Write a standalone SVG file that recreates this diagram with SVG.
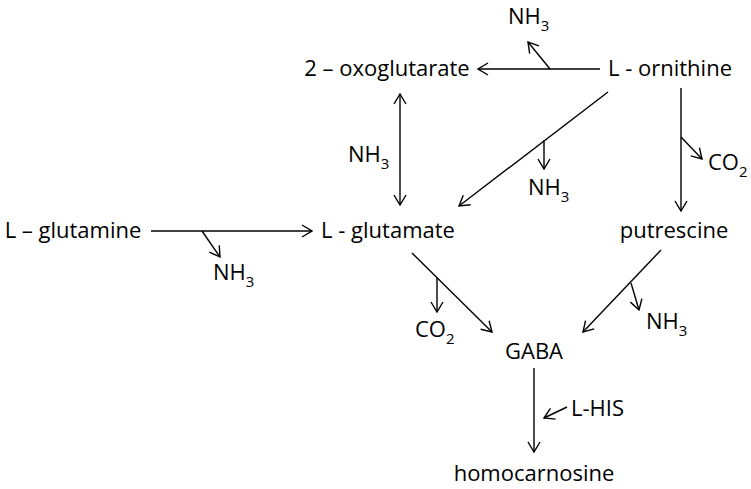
<svg xmlns="http://www.w3.org/2000/svg" width="751" height="489" viewBox="0 0 751 489">
<style>
text{font-family:"Open Sans","Noto Sans",sans-serif;font-size:22px;fill:#000}
.sub{font-size:15px}
.c line{stroke:#000;stroke-width:1.4;fill:none}
</style>
<defs>
<marker id="a" viewBox="0 0 12 14" refX="11" refY="7" markerWidth="12" markerHeight="14" markerUnits="userSpaceOnUse" orient="auto-start-reverse">
<path d="M1,1 L11,7 L1,13" fill="none" stroke="#000" stroke-width="1.4"/>
</marker>
</defs>
<rect width="751" height="489" fill="#fff"/>
<g id="oxoglutarate"><text x="387" y="76" text-anchor="middle">2 – oxoglutarate</text></g>
<g id="ornithine"><text x="670" y="76" text-anchor="middle">L - ornithine</text></g>
<g id="glutamine"><text x="73" y="238" text-anchor="middle">L – glutamine</text></g>
<g id="glutamate"><text x="388" y="238" text-anchor="middle">L - glutamate</text></g>
<g id="putrescine"><text x="674" y="238" text-anchor="middle">putrescine</text></g>
<g id="gaba"><text x="534" y="359" text-anchor="middle">GABA</text></g>
<g id="homocarnosine"><text x="534" y="481" text-anchor="middle">homocarnosine</text></g>
<g id="labels">
<text x="508" y="24">NH<tspan class="sub" dy="7">3</tspan></text>
<text x="348" y="162">NH<tspan class="sub" dy="7">3</tspan></text>
<text x="528" y="195">NH<tspan class="sub" dy="7">3</tspan></text>
<text x="708" y="170">CO<tspan class="sub" dy="7">2</tspan></text>
<text x="213" y="280">NH<tspan class="sub" dy="7">3</tspan></text>
<text x="415" y="337">CO<tspan class="sub" dy="7">2</tspan></text>
<text x="646" y="329">NH<tspan class="sub" dy="7">3</tspan></text>
<text x="571" y="416">L-HIS</text>
</g>
<g id="connectors" class="c">
<line x1="600" y1="69" x2="478" y2="69" marker-end="url(#a)"/>
<line x1="550" y1="69" x2="528" y2="42" marker-end="url(#a)"/>
<line x1="400" y1="94" x2="400" y2="205" marker-start="url(#a)" marker-end="url(#a)"/>
<line x1="608" y1="92" x2="459" y2="206" marker-end="url(#a)"/>
<line x1="544" y1="140" x2="544" y2="169" marker-end="url(#a)"/>
<line x1="681" y1="88" x2="681" y2="211" marker-end="url(#a)"/>
<line x1="681" y1="137" x2="702" y2="159" marker-end="url(#a)"/>
<line x1="151" y1="231" x2="312" y2="231" marker-end="url(#a)"/>
<line x1="202" y1="231" x2="220" y2="257" marker-end="url(#a)"/>
<line x1="412" y1="253" x2="492" y2="332" marker-end="url(#a)"/>
<line x1="437" y1="278" x2="437" y2="312" marker-end="url(#a)"/>
<line x1="661" y1="250" x2="583" y2="332" marker-end="url(#a)"/>
<line x1="631" y1="283" x2="639" y2="310" marker-end="url(#a)"/>
<line x1="534" y1="368" x2="534" y2="452" marker-end="url(#a)"/>
<line x1="567" y1="407" x2="544" y2="418" marker-end="url(#a)"/>
</g>
</svg>
